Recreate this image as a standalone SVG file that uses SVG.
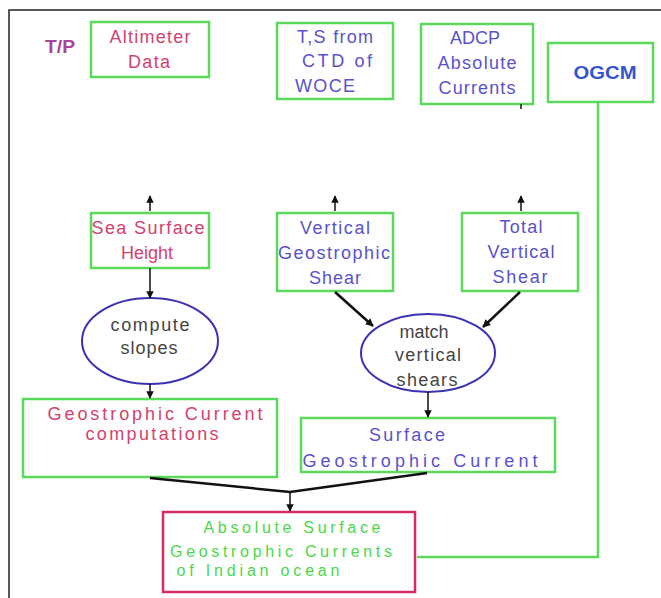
<svg xmlns="http://www.w3.org/2000/svg" width="661" height="598" viewBox="0 0 661 598">
<style>
text{font-family:"Liberation Sans",Arial,sans-serif;font-size:18px;text-anchor:middle;dominant-baseline:central}
.box{fill:#fff;stroke:#5ad95a;stroke-width:2.5}
.ell{fill:#fff;stroke:#3c32b4;stroke-width:2}
.red{fill:#fff;stroke:#d62a64;stroke-width:2.5}
.cr{fill:#d2426e}
.bl{fill:#5a52c8}
.gy{fill:#444}
.gn{fill:#4ad84a;font-size:16px}
.ln{stroke:#111;stroke-width:2.5;fill:none}
.sm{stroke:#111;stroke-width:1.5;fill:none}
</style>
<defs>
<marker id="ah" viewBox="0 0 10 10" refX="9" refY="5" markerWidth="3.2" markerHeight="3.2" orient="auto"><path d="M0,0L10,5L0,10z" fill="#111"/></marker>
<marker id="ah2" viewBox="0 0 10 10" refX="9" refY="5" markerWidth="5" markerHeight="5" orient="auto"><path d="M0,0L10,5L0,10z" fill="#111"/></marker>
</defs>
<rect width="661" height="598" fill="#fff"/>
<path d="M9,598V10H661" fill="none" stroke="#222" stroke-width="1.5"/>
<text x="60" y="47" font-size="16" font-weight="bold" fill="#a8449a" textLength="30" lengthAdjust="spacingAndGlyphs">T/P</text>
<g id="altimeter"><rect class="box" x="91" y="22" width="118" height="55"/>
<text class="cr" x="150" y="37" textLength="81">Altimeter</text><text class="cr" x="149" y="62" textLength="42">Data</text></g>
<g id="ctd"><rect class="box" x="277" y="23" width="116" height="76"/>
<text class="bl" x="335" y="37" textLength="76">T,S from</text><text class="bl" x="337" y="61" textLength="70">CTD of</text><text class="bl" x="325" y="86" textLength="60">WOCE</text></g>
<g id="adcp"><rect class="box" x="421" y="24" width="112" height="80"/>
<text class="bl" x="475" y="38" font-size="17">ADCP</text><text class="bl" x="477" y="63" textLength="79">Absolute</text><text class="bl" x="477" y="88" textLength="77">Currents</text></g>
<g id="ogcm"><rect class="box" x="548" y="43" width="105" height="59"/>
<text x="605" y="73" font-size="17" font-weight="bold" fill="#3454d2" textLength="63" lengthAdjust="spacingAndGlyphs">OGCM</text></g>
<g id="ssh"><rect class="box" x="91" y="213" width="118" height="55"/>
<text class="cr" x="148" y="228" textLength="113">Sea Surface</text><text class="cr" x="147" y="253" font-size="17">Height</text></g>
<g id="vgs"><rect class="box" x="277" y="213" width="116" height="78"/>
<text class="bl" x="335" y="228" textLength="70">Vertical</text><text class="bl" x="334" y="253" font-size="17" textLength="112">Geostrophic</text><text class="bl" x="335" y="278" textLength="52">Shear</text></g>
<g id="tvs"><rect class="box" x="462" y="213" width="116" height="78"/>
<text class="bl" x="521" y="227" textLength="43">Total</text><text class="bl" x="521" y="252" textLength="67">Vertical</text><text class="bl" x="520" y="277" textLength="55">Shear</text></g>
<g id="slopes"><ellipse class="ell" cx="150" cy="341" rx="68" ry="43"/>
<text class="gy" x="150" y="325" textLength="79">compute</text><text class="gy" x="149" y="348" textLength="57">slopes</text></g>
<g id="match"><ellipse class="ell" cx="428" cy="353" rx="67" ry="39"/>
<text class="gy" x="424" y="332" font-size="17">match</text><text class="gy" x="428" y="355" textLength="66">vertical</text><text class="gy" x="427" y="380" textLength="61">shears</text></g>
<g id="gcc"><rect class="box" x="23" y="399" width="254" height="78"/>
<text class="cr" x="155" y="414" textLength="215">Geostrophic  Current</text><text class="cr" x="152" y="434" textLength="133">computations</text></g>
<g id="sgc"><rect class="box" x="301" y="418" width="254" height="54"/>
<text class="bl" x="407" y="435" textLength="76">Surface</text><text class="bl" x="420" y="461" textLength="235">Geostrophic  Current</text></g>
<g id="absolute"><rect class="red" x="163" y="512" width="252" height="80"/>
<text class="gn" x="292" y="527" textLength="177">Absolute  Surface</text><text class="gn" x="281" y="551" textLength="222">Geostrophic  Currents</text><text class="gn" x="258" y="570" textLength="163">of  Indian  ocean</text></g>
<g id="connectors">
<path class="box" style="fill:none" d="M598,102V557H417"/>
<line class="sm" x1="150" y1="211" x2="150" y2="196" marker-end="url(#ah2)"/>
<line class="sm" x1="335" y1="211" x2="335" y2="196" marker-end="url(#ah2)"/>
<line class="sm" x1="521" y1="211" x2="521" y2="196" marker-end="url(#ah2)"/>
<line class="sm" x1="521" y1="104" x2="521" y2="109"/>
<line class="sm" x1="150" y1="268" x2="150" y2="298" marker-end="url(#ah2)"/>
<line class="sm" x1="150" y1="384" x2="150" y2="398" marker-end="url(#ah2)"/>
<line class="ln" x1="335" y1="292" x2="373" y2="326" marker-end="url(#ah)"/>
<line class="ln" x1="520" y1="292" x2="483" y2="327" marker-end="url(#ah)"/>
<line class="sm" x1="428" y1="392" x2="428" y2="417" marker-end="url(#ah2)"/>
<path class="ln" d="M150,478L290,492L427,473"/>
<line class="sm" x1="290" y1="492" x2="290" y2="511" marker-end="url(#ah2)"/>
</g>
</svg>
